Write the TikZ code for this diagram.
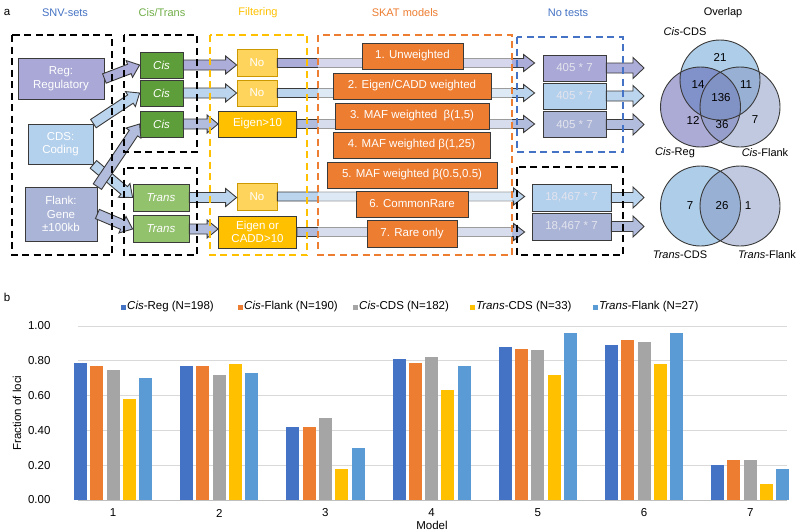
\documentclass[tikz,border=0pt]{standalone}
\usepackage{fontspec}
\setmainfont{Liberation Sans}
\usetikzlibrary{calc}
\definecolor{sblue}{HTML}{4472C4}
\definecolor{sorange}{HTML}{ED7D31}
\definecolor{syellow}{HTML}{FFC000}
\definecolor{sgreen}{HTML}{70AD47}
\definecolor{bar1}{HTML}{4472C4}
\definecolor{bar2}{HTML}{ED7D31}
\definecolor{bar3}{HTML}{A5A5A5}
\definecolor{bar4}{HTML}{FFC000}
\definecolor{bar5}{HTML}{5B9BD5}
\definecolor{cisgreen}{HTML}{5E9E3A}
\definecolor{transgreen}{HTML}{93C26D}
\definecolor{nogold}{HTML}{FFD45C}
\definecolor{reglav}{HTML}{A9A8D6}
\definecolor{cdsblue}{HTML}{B3D0EC}
\definecolor{flankgray}{HTML}{AAB4D6}
\definecolor{rowlav}{HTML}{ADADD9}
\definecolor{rowblue}{HTML}{BCD5EE}
\definecolor{rowgray}{HTML}{B2BCDC}
\definecolor{edge}{HTML}{3A3A3A}
\definecolor{tlight}{HTML}{E4E4EE}
\definecolor{vcds}{HTML}{5B9BD1}
\definecolor{vreg}{HTML}{5757AE}
\definecolor{vflank}{HTML}{8294C0}
\definecolor{gridgray}{HTML}{D9D9D9}
\definecolor{axisgray}{HTML}{BFBFBF}
\tikzset{
  boxbase/.style={draw=edge, line width=0.8pt, align=center, text=white, inner sep=1pt},
  snvbox/.style={boxbase, fill=#1},
  cisbox/.style={boxbase, fill=cisgreen, minimum width=43pt, minimum height=26pt},
  transbox/.style={boxbase, fill=transgreen, minimum width=56pt, minimum height=27pt},
  nobox/.style={boxbase, draw=syellow!80!black, fill=nogold, minimum width=40pt, minimum height=27pt},
  eigenbox/.style={boxbase, fill=syellow, minimum width=78pt},
  skatbox/.style={boxbase, fill=sorange, minimum height=26pt},
  testbox/.style={boxbase, text=tlight, fill=#1, minimum height=26pt},
  hdr/.style={text=#1, font=\fontsize{11}{13}\selectfont},
  grpbox/.style={draw=#1, line width=1.8pt, dash pattern=on 7pt off 4.5pt},
  blockline/.style={draw=edge, line width=0.9pt, line join=miter},
  venn/.style={fill opacity=0.5},
  vennlbl/.style={font=\fontsize{11}{13}\selectfont},
}
% block arrow: fill, shaft half width, head half width, from, to
\newcommand{\blockarr}[5]{%
  \path (#4) coordinate (ba-s) (#5) coordinate (ba-t);
  \path ($(ba-t)!11pt!(ba-s)$) coordinate (ba-b);
  \filldraw[blockline, fill=#1]
    ($(ba-s)!#2!90:(ba-t)$) -- ($(ba-b)!#2!90:(ba-t)$) -- ($(ba-b)!#3!90:(ba-t)$)
    -- (ba-t) -- ($(ba-b)!#3!-90:(ba-t)$) -- ($(ba-b)!#2!-90:(ba-t)$)
    -- ($(ba-s)!#2!-90:(ba-t)$) -- cycle;
}

\begin{document}
\begin{tikzpicture}[
    x=1pt, y=-1pt,
    every node/.style={font=\fontsize{11.5}{13.5}\selectfont}
  ]
  \useasboundingbox (0,0) rectangle (799,530);

  % panel a: headers
  \node (pa) at (7,12) {a};
  \node[hdr=sblue] (h1) at (65,13) {SNV-sets};
  \node[hdr=sgreen] (h2) at (162,13) {Cis/Trans};
  \node[hdr=syellow] (h3) at (258,13) {Filtering};
  \node[hdr=sorange] (h4) at (405,13) {SKAT models};
  \node[hdr=sblue] (h5) at (568,13) {No tests};
  \node[hdr=black] (h6) at (723,13) {Overlap};

  % SNV sets
  \node[snvbox=reglav, minimum width=86pt, minimum height=41pt] (reg) at (61,78.5) {Reg:\\Regulatory};
  \node[snvbox=cdsblue, minimum width=65pt, minimum height=40pt] (cds) at (60.5,144) {CDS:\\Coding};
  \node[snvbox=flankgray, minimum width=72pt, minimum height=54pt] (flank) at (61,214) {Flank:\\Gene\\±100kb};

  % cis / trans
  \node[cisbox] (cis1) at (161.5,65) {\textit{Cis}};
  \node[cisbox] (cis2) at (161.5,93) {\textit{Cis}};
  \node[cisbox] (cis3) at (161.5,124) {\textit{Cis}};
  \node[transbox] (trans1) at (161,197.5) {\textit{Trans}};
  \node[transbox] (trans2) at (161,229) {\textit{Trans}};

  % filtering
  \node[nobox] (no1) at (257,63) {No};
  \node[nobox, minimum height=26pt] (no2) at (257,93) {No};
  \node[eigenbox, minimum height=26pt] (eig1) at (257.5,124) {Eigen>10};
  \node[nobox] (no3) at (257,196.5) {No};
  \node[eigenbox, minimum height=32pt] (eig2) at (257.5,232) {Eigen or\\CADD>10};

  % no tests
  \node[testbox=reglav, minimum width=63pt] (t1) at (574.5,68) {405 * 7};
  \node[testbox=cdsblue, minimum width=63pt] (t2) at (574.5,96) {405 * 7};
  \node[testbox=flankgray, minimum width=63pt] (t3) at (574.5,124.5) {405 * 7};
  \node[testbox=cdsblue, minimum width=79pt, minimum height=27pt] (t4) at (571.5,197.5) {18,467 * 7};
  \node[testbox=flankgray, minimum width=79pt, minimum height=27pt] (t5) at (571.5,226.5) {18,467 * 7};
  \coordinate (ovl) at (644,0);

  % arrows into cis/trans
  \blockarr{rowlav}{5pt}{9pt}{reg.east}{cis1.west}
  \blockarr{rowblue}{5pt}{9pt}{cds.north east}{cis2.west}
  \blockarr{rowblue}{5pt}{9pt}{cds.south east}{trans1.west}
  \blockarr{rowgray}{5pt}{9pt}{flank.north east}{cis3.west}
  \blockarr{rowgray}{5pt}{9pt}{flank.east}{trans2.west}

  % arrows into filtering
  \blockarr{rowlav}{5pt}{9pt}{cis1.east}{cis1.east -| no1.west}
  \blockarr{rowblue}{5pt}{9pt}{cis2.east}{cis2.east -| no2.west}
  \blockarr{rowgray}{5pt}{9pt}{cis3.east}{cis3.east -| eig1.west}
  \blockarr{rowblue}{5pt}{9pt}{trans1.east}{trans1.east -| no3.west}
  \blockarr{rowgray}{5pt}{9pt}{trans2.east}{trans2.east -| eig2.west}

  % arrows through SKAT models
  \blockarr{rowlav}{4.5pt}{8.5pt}{no1.east}{$(no1.east -| t1.west)+(-8,0)$}
  \blockarr{rowblue}{4.5pt}{8.5pt}{no2.east}{$(no2.east -| t2.west)+(-8,0)$}
  \blockarr{rowgray}{4.5pt}{8.5pt}{eig1.east}{$(eig1.east -| t3.west)+(-8,0)$}
  \blockarr{rowblue}{4.5pt}{8.5pt}{no3.east}{$(no3.east -| t4.west)+(-7,0)$}
  \blockarr{rowgray}{4.5pt}{8.5pt}{eig2.east}{$(eig2.east -| t5.west)+(-7,0)$}
  \fill[white, fill opacity=0.5] (318,35) rectangle (512,255);

  % arrows to overlap
  \blockarr{rowlav}{5pt}{10.5pt}{t1.east}{t1.east -| ovl}
  \blockarr{rowblue}{5pt}{10.5pt}{t2.east}{t2.east -| ovl}
  \blockarr{rowgray}{5pt}{10.5pt}{t3.east}{t3.east -| ovl}
  \blockarr{rowblue}{5pt}{10.5pt}{t4.east}{t4.east -| ovl}
  \blockarr{rowgray}{5pt}{10.5pt}{t5.east}{t5.east -| ovl}

  % SKAT models
  \node[skatbox, minimum width=101pt] (m1) at (412.5,56) {1. Unweighted};
  \node[skatbox, minimum width=158pt] (m2) at (412,86) {2. Eigen/CADD weighted};
  \node[skatbox, minimum width=154pt] (m3) at (412,116) {3. MAF weighted~~β(1,5)};
  \node[skatbox, minimum width=157pt] (m4) at (411.5,145) {4. MAF weighted β(1,25)};
  \node[skatbox, minimum width=170pt] (m5) at (412,175) {5. MAF weighted β(0.5,0.5)};
  \node[skatbox, minimum width=112pt] (m6) at (412,204) {6. CommonRare};
  \node[skatbox, minimum width=90pt, minimum height=27pt] (m7) at (412,233.5) {7. Rare only};

  % group frames
  \draw[grpbox=black] (12,35) rectangle (112,255);
  \draw[grpbox=black] (124,35) rectangle (197,152);
  \draw[grpbox=black] (124,168) rectangle (197,255);
  \draw[grpbox=syellow] (210,35) rectangle (307,255);
  \draw[grpbox=sorange] (318,35) rectangle (512,255);
  \draw[grpbox=sblue] (517,37) rectangle (623,152);
  \draw[grpbox=black] (517,167) rectangle (623,255);

  % overlap: cis
  \fill[venn, vcds] (720,80) circle (40pt);
  \fill[venn, vreg] (700.5,107) circle (40pt);
  \fill[venn, vflank] (740,107) circle (40pt);
  \draw[edge, line width=0.9pt] (720,80) circle (40pt) (700.5,107) circle (40pt) (740,107) circle (40pt);
  \node (n21) at (720,57) {21};
  \node (n14) at (698,85) {14};
  \node (n11) at (746,85) {11};
  \node (n136) at (721,98) {136};
  \node (n12) at (693,120) {12};
  \node (n36) at (722,125) {36};
  \node (n7a) at (755,120) {7};
  \node[vennlbl] (lcds) at (685,32) {\textit{Cis}-CDS};
  \node[vennlbl] (lreg) at (675,153) {\textit{Cis}-Reg};
  \node[vennlbl] (lflank) at (765,153) {\textit{Cis}-Flank};

  % overlap: trans
  \fill[venn, vcds] (700.5,206) circle (40pt);
  \fill[venn, vflank] (740,206) circle (40pt);
  \draw[edge, line width=0.9pt] (700.5,206) circle (40pt) (740,206) circle (40pt);
  \node (n7b) at (690,206) {7};
  \node (n26) at (722,206) {26};
  \node (n1) at (748,206) {1};
  \node[vennlbl] (ltcds) at (680,255) {\textit{Trans}-CDS};
  \node[vennlbl] (ltflank) at (767,255) {\textit{Trans}-Flank};

  % panel b
  \node (pb) at (7,297) {b};
  \foreach \j/\x/\lab in {1/123/{\textit{Cis}-Reg (N=198)}, 2/240/{\textit{Cis}-Flank (N=190)},
      3/355/{\textit{Cis}-CDS (N=182)}, 4/472/{\textit{Trans}-CDS (N=33)}, 5/595/{\textit{Trans}-Flank (N=27)}} {
    \fill[bar\j] ({\x-2.5},304.5) rectangle ({\x+2.5},309.5);
    \node[anchor=west, inner sep=0pt] (leg\j) at ({\x+4},307) {\lab};
  }
  \foreach \g/\lab [count=\i] in {0/0.00, 0.2/0.20, 0.4/0.40, 0.6/0.60, 0.8/0.80, 1/1.00} {
    \draw[gridgray, line width=0.9pt] (78,{500-174*\g}) -- (787,{500-174*\g});
    \node[anchor=east] (y\i) at (54,{500-174*\g}) {\lab};
  }
  \draw[axisgray, line width=0.9pt] (78,500) -- (787,500);
  \foreach \vals [count=\k] in {{.79,.77,.75,.58,.70}, {.77,.77,.72,.78,.73}, {.42,.42,.47,.18,.30},
      {.81,.79,.82,.63,.77}, {.88,.87,.86,.72,.96}, {.89,.92,.91,.78,.96}, {.20,.23,.23,.09,.18}} {
    \foreach \v [count=\j] in \vals {
      \pgfmathsetmacro{\bx}{113+(\k-1)*106.2+(\j-3)*16.3}
      \fill[bar\j] ({\bx-6.5},500) rectangle ({\bx+6.5},{500-174*\v});
    }
    \node (x\k) at ({113+(\k-1)*106.2},513) {\k};
  }
  \node[rotate=90] (ylab) at (17,413) {Fraction of loci};
  \node (xlab) at (432,525) {Model};
\end{tikzpicture}
\end{document}
